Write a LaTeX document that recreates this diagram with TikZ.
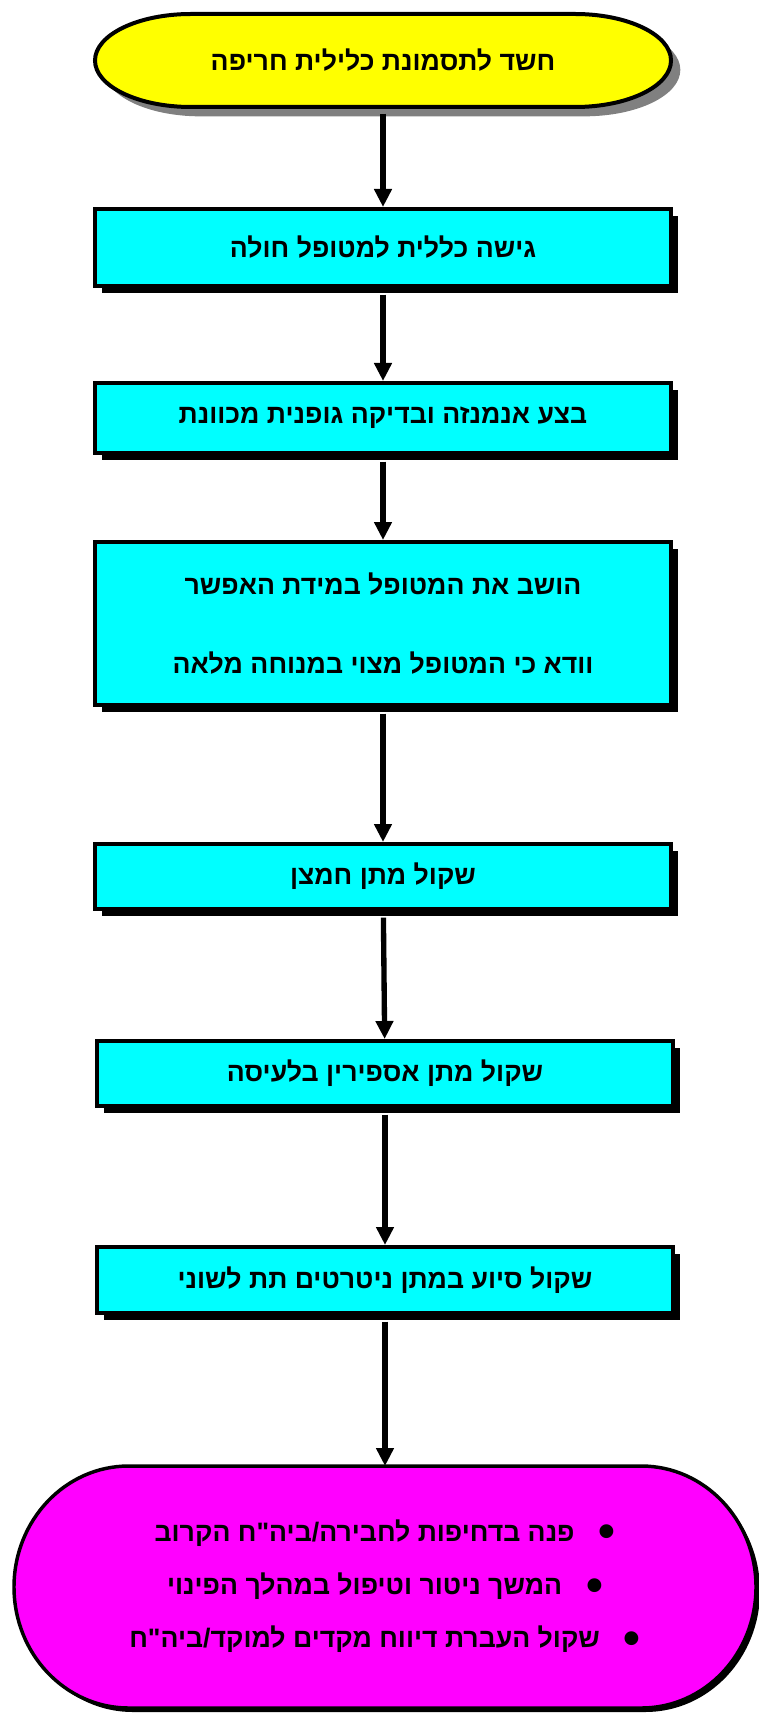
\documentclass[tikz,border=0pt]{standalone}
\usepackage{fontspec}
\newfontfamily\hebfont[Script=Hebrew,Ligatures=TeXOff]{Liberation Sans}
\TeXXeTstate=1
\usetikzlibrary{positioning,shadows,backgrounds,arrows.meta}
\definecolor{termyellow}{RGB}{255,255,0}
\definecolor{boxcyan}{RGB}{0,255,255}
\definecolor{termmagenta}{RGB}{255,0,255}
\definecolor{shadowgray}{RGB}{128,128,128}
\newcommand{\heb}[1]{\beginR#1\endR}
\newcommand{\itembullet}{\raisebox{-5pt}{\fontsize{36}{36}\selectfont•}\hspace{18pt}}
\newcommand{\termpath}[3]{([xshift=#2]#1.north west) -- ([xshift=-#2]#1.north east)
  arc[start angle=90,end angle=-90,x radius=#2,y radius=#3] -- ([xshift=#2]#1.south west)
  arc[start angle=270,end angle=90,x radius=#2,y radius=#3] -- cycle}

\begin{document}
\begin{tikzpicture}[x=0.75pt,y=0.75pt]
      \tikzstyle{terminal}=[rectangle, minimum width=432pt, outer sep=0pt, align=center, font=\hebfont\bfseries\fontsize{20}{24}\selectfont]
      \tikzstyle{stepbox}=[rectangle, draw=black, line width=3pt, fill=boxcyan, minimum width=432pt, align=center, font=\hebfont\bfseries\fontsize{20}{24}\selectfont, drop shadow={shadow xshift=5.5pt, shadow yshift=-5.5pt, fill=black, opacity=1}]
      \tikzstyle{connect}=[-{Triangle[length=13.5pt,width=12.75pt]}, line width=4pt, shorten <=5pt]

      \useasboundingbox (0,0) rectangle (759,-1715);

      \node[terminal, minimum height=69.75pt] (start) at (383,-60.5) {\heb{חשד לתסמונת כלילית חריפה}};
      \node[stepbox, minimum height=57.75pt] (approach) [below=75pt of start] {\heb{גישה כללית למטופל חולה}};
      \node[stepbox, minimum height=52.5pt] (history) [below=69.75pt of approach] {\heb{בצע אנמנזה ובדיקה גופנית מכוונת}};
      \node[stepbox, minimum height=122.25pt] (rest) [below=63.75pt of history] {\heb{הושב את המטופל במידת האפשר}\\[35pt]\heb{וודא כי המטופל מצוי במנוחה מלאה}};
      \node[stepbox, minimum height=48.75pt] (oxygen) [below=101.25pt of rest] {\heb{שקול מתן חמצן}};
      \node[stepbox, minimum height=48.75pt] (aspirin) [below=96pt of oxygen, xshift=1.5pt] {\heb{שקול מתן אספירין בלעיסה}};
      \node[stepbox, minimum height=49.5pt] (nitro) [below=102.75pt of aspirin] {\heb{שקול סיוע במתן ניטרטים תת לשוני}};
      \node[terminal, minimum width=556.5pt, minimum height=181.5pt, font=\hebfont\bfseries\fontsize{20}{40}\selectfont] (finish) [below=113.25pt of nitro] {\heb{\itembullet פנה בדחיפות לחבירה/ביה"ח הקרוב}\\\heb{\itembullet המשך ניטור וטיפול במהלך הפינוי}\\\heb{\itembullet שקול העברת דיווח מקדים למוקד/ביה"ח}};

      \begin{scope}[on background layer]
        \fill[shadowgray, transform canvas={xshift=7pt,yshift=-7pt}] \termpath{start}{72pt}{34.875pt};
        \draw[line width=3pt, fill=termyellow] \termpath{start}{72pt}{34.875pt};
        \fill[black, transform canvas={xshift=3pt,yshift=-3pt}] \termpath{finish}{86pt}{90.75pt};
        \draw[line width=2.6pt, fill=termmagenta] \termpath{finish}{86pt}{90.75pt};
      \end{scope}

      \path (start) edge [connect] (approach)
            (approach) edge [connect] (history)
            (history) edge [connect] (rest)
            (rest) edge [connect] (oxygen)
            (oxygen) edge [connect] (aspirin)
            (aspirin) edge [connect] (nitro)
            (nitro) edge [connect] (finish);
\end{tikzpicture}
\end{document}
